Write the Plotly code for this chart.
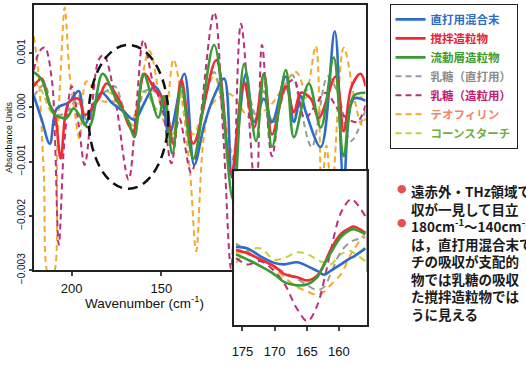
import plotly.graph_objects as go

W, H = 526, 365

# ---------------- main spectrum data (wavenumber cm-1, absorbance x 1e-3) ----------------
blue_wn = [221.1, 216.7, 212.2, 208.3, 201.7, 196.1, 192.8, 188.9, 183.3, 177.8, 170.6, 165.0, 159.4, 153.9,
           150.0, 145.6, 137.2, 131.7, 126.1, 120.6, 115.0, 110.6, 102.8, 98.3, 92.8, 88.3, 80.6, 76.1, 72.2,
           69.4, 61.1, 53.3, 48.3, 42.8, 36.1]
blue_abs = [0.21, -0.23, -0.67, -0.02, 0.09, 0.30, -0.32, -0.05, 0.27, 0.09, -0.09, -0.23, 0.09, 0.39,
            0.21, -0.50, 0.62, -1.06, -0.32, 0.21, 0.53, -1.29, 0.62, -0.27, 0.16, -0.27, 0.57, -0.27, 0.21,
            -0.09, -0.73, 1.40, -1.38, 0.16, 0.12]

red_wn = [221.1, 216.7, 212.8, 209.4, 206.1, 201.7, 196.1, 192.8, 185.0, 180.6, 173.9, 168.3, 165.6, 159.4,
          153.9, 148.3, 143.3, 138.9, 132.2, 119.4, 111.1, 103.9, 98.3, 92.8, 88.3, 80.6, 76.1, 72.2, 66.7,
          62.2, 52.8, 48.3, 43.9, 38.9, 36.1]
red_abs = [0.39, 0.53, 0.09, -0.14, -0.94, 0.09, 0.16, -0.14, 0.16, 0.44, 0.16, -0.32, -0.44, 0.62,
           0.34, 0.12, -0.67, 0.51, -0.67, 0.87, -1.20, 0.44, -0.37, 0.62, -0.50, 0.39, -0.09, 0.27, 0.16,
           -0.19, 0.57, -0.44, 0.39, 0.62, 0.39]

green_wn = [221.1, 216.7, 212.2, 209.4, 202.8, 198.9, 190.6, 182.8, 176.1, 168.3, 165.0, 160.0, 151.7, 148.3,
            143.9, 138.9, 132.2, 120.6, 110.0, 103.9, 97.2, 92.8, 88.3, 80.6, 76.1, 67.8, 61.1, 53.9, 48.3,
            42.8, 36.1]
green_abs = [0.65, 0.51, 0.04, -0.14, -0.19, -0.02, -0.37, 0.62, 0.21, -0.27, -0.55, 0.62, -0.19, 0.21,
             -0.85, 0.39, -0.94, 1.15, -1.70, 0.80, -0.62, 0.62, -0.73, 0.69, -0.55, 0.44, -0.37, 0.92, -0.90,
             0.21, 0.27]

lac_direct_wn = [221.1, 215.0, 211.1, 206.7, 201.7, 196.1, 191.7, 186.1, 180.6, 176.1, 170.6, 165.0, 159.4,
                 153.9, 148.3, 143.9, 138.9, 132.2, 120.6, 111.1, 103.9, 97.2, 92.8, 88.3, 77.2, 72.2, 66.1,
                 57.2, 51.1, 44.4, 36.1]
lac_direct_abs = [0.21, 0.42, -0.05, -0.14, -0.05, 0.21, -0.23, 0.21, 0.30, 0.39, -0.05, -0.41, 0.30,
                  0.30, -0.05, -0.58, 0.30, -0.67, 0.65, -1.03, 0.48, -0.14, 0.30, -0.32, 0.60, -0.05, -0.73,
                  0.57, 0.21, -0.62, -0.05]

lac_gran_wn = [221.1, 217.8, 215.0, 211.1, 209.4, 207.2, 204.0, 200.0, 196.1, 192.8, 188.5, 185.0, 182.2,
               176.0, 168.3, 164.0, 160.0, 155.0, 151.7, 148.9, 144.4, 140.0, 133.3, 120.6, 115.5, 111.1, 105.6,
               97.2, 93.9, 88.3, 82.0, 76.1, 70.0, 63.0, 58.3, 50.0, 41.1, 36.1]
lac_gran_abs = [0.69, 1.04, 1.10, 0.51, -0.50, -2.53, -0.60, 0.39, -0.32, -1.06, 0.10, 0.87, 0.97,
                0.20, -1.33, 0.00, 1.24, 0.50, 0.21, -0.11, -1.03, -0.20, -1.20, 1.75, -0.50, -2.97, 1.54,
                -1.70, 1.15, -0.90, 0.30, 0.51, -0.20, 0.10, 0.27, -0.10, -0.27, 0.04]

theo_wn = [221.1, 218.5, 215.6, 212.8, 210.5, 208.0, 205.8, 203.9, 201.1, 198.9, 195.6, 191.7, 183.3, 175.0,
           166.7, 156.7, 148.3, 143.3, 138.9, 134.0, 130.6, 126.5, 122.2, 112.2, 100.0, 88.9, 75.0, 69.4, 63.9,
           60.6, 58.0, 55.0, 48.3, 42.0, 38.3, 36.1]
theo_abs = [1.31, 0.60, -1.20, -3.10, -3.10, -0.70, 0.90, 1.84, 0.57, 0.04, -0.58, 0.48, 0.12, 0.10,
            -0.23, 1.04, -0.27, 0.88, 0.21, -1.20, -2.65, -0.60, 0.04, 0.25, -0.20, 0.05, 0.65, 0.30, 1.13,
            -1.56, -0.70, -1.56, 1.10, 0.10, -0.32, -0.20]

corn_wn = [221.1, 216.7, 212.2, 206.7, 201.7, 196.1, 190.6, 182.8, 176.1, 168.3, 165.0, 160.0, 151.7, 148.3,
           143.9, 138.9, 132.2, 120.6, 110.0, 103.9, 97.2, 92.8, 88.3, 80.6, 76.1, 67.8, 61.1, 53.9, 48.3,
           42.8, 36.1]
corn_abs = [0.48, 0.30, -0.05, -0.23, -0.11, 0.07, -0.23, 0.30, 0.21, -0.23, -0.35, 0.30, -0.05, 0.12,
            -0.50, 0.21, -0.50, 0.57, -0.85, 0.39, -0.23, 0.30, -0.23, 0.39, -0.14, 0.21, -0.14, 0.48, -0.32,
            0.12, 0.21]

# ---------------- inset data (wavenumber cm-1, relative absorbance) ----------------
ins_wn = [176.0, 174.2, 172.2, 170.1, 168.5, 166.5, 164.9, 163.4, 162.3, 161.3, 159.7, 158.2, 157.7, 155.9]
ins_blue = [50.8, 49.8, 44.6, 40.4, 39.4, 40.8, 38.3, 35.2, 32.7, 35.2, 39.4, 43.5, 44.5, 49.8]
ins_red = [48.8, 46.7, 42.5, 38.3, 33.1, 31.0, 29.0, 32.1, 39.4, 48.8, 59.2, 63.3, 64.0, 60.0]
ins_green = [46.0, 42.5, 38.3, 33.1, 27.9, 25.8, 26.5, 31.0, 39.4, 46.7, 57.1, 61.9, 62.3, 59.2]
ins_lac_direct = [52.9, 47.7, 42.5, 38.3, 34.2, 30.0, 25.8, 22.7, 24.8, 33.1, 47.7, 54.0, 55.0, 57.1]
ins_lac_gran = [43.5, 39.4, 41.5, 35.2, 27.1, 10.4, 2.5, 12.5, 29.2, 47.9, 72.9, 81.7, 81.0, 70.8]
ins_theo = [47.7, 46.0, 43.5, 37.3, 31.0, 24.8, 21.7, 19.6, 21.7, 26.0, 33.1, 45.6, 49.0, 60.0]
ins_corn = [40.4, 48.1, 49.8, 42.5, 43.5, 47.3, 46.0, 42.5, 40.5, 39.4, 46.0, 48.1, 47.0, 41.5]

series_names = ["直打用混合末", "撹拌造粒物", "流動層造粒物", "乳糖（直打用）", "乳糖（造粒用）", "テオフィリン", "コーンスターチ"]
line_colors = ["#2f6cc8", "#ee2b36", "#3a9a34", "#9a9a9a", "#b8307c", "#f2aa2e", "#c4cf3c"]
text_colors = ["#2c6cc4", "#e8202e", "#3d9a2e", "#8c8c8c", "#c2206c", "#f08466", "#6fae3e"]
dashed = [False, False, False, True, True, True, True]

main_x = [blue_wn, red_wn, green_wn, lac_direct_wn, lac_gran_wn, theo_wn, corn_wn]
main_y = [blue_abs, red_abs, green_abs, lac_direct_abs, lac_gran_abs, theo_abs, corn_abs]
inset_y = [ins_blue, ins_red, ins_green, ins_lac_direct, ins_lac_gran, ins_theo, ins_corn]

draw_order = [6, 3, 5, 4, 0, 1, 2]

fig = go.Figure()
for i in draw_order:
    line = dict(color=line_colors[i], width=2.0 if dashed[i] else 2.6, shape="spline", smoothing=1.0)
    if dashed[i]:
        line["dash"] = "6px,4px"
    fig.add_trace(go.Scatter(
        x=main_x[i], y=[v * 1e-3 for v in main_y[i]], mode="lines", line=line,
        name='<span style="color:%s">%s</span>' % (text_colors[i], series_names[i]),
        legendrank=i + 1, xaxis="x", yaxis="y"))
for i in draw_order:
    line = dict(color=line_colors[i], width=2.0 if dashed[i] else 2.6, shape="spline", smoothing=1.0)
    if dashed[i]:
        line["dash"] = "7px,5px"
    fig.add_trace(go.Scatter(
        x=ins_wn, y=inset_y[i], mode="lines", line=line, showlegend=False,
        xaxis="x2", yaxis="y2"))


def px(x):
    return x / W


def py(y):
    return 1 - y / H


axis_font = dict(family="Liberation Sans, Arial", size=13, color="#111")

fig.update_layout(
    width=W, height=H,
    margin=dict(l=0, r=0, t=0, b=0),
    paper_bgcolor="white", plot_bgcolor="white",
    showlegend=True,
    legend=dict(x=px(389), y=py(4), xanchor="left", yanchor="top",
                bordercolor="#222", borderwidth=1, bgcolor="white",
                font=dict(family="Noto Sans CJK JP", size=11.5, weight=700),
                tracegroupgap=0, itemwidth=30),
    xaxis=dict(domain=[px(32), px(365)], range=[221.1, 36.1], anchor="y",
               tickvals=[200, 150], ticks="outside", ticklen=4, tickwidth=1.5,
               ticklabelstandoff=1,
               showline=True, linecolor="#222", linewidth=2, mirror=True,
               showgrid=False, zeroline=False, tickfont=axis_font),
    yaxis=dict(domain=[py(281), py(5)], range=[-0.003, 0.00189], anchor="x",
               tickvals=[-0.003, -0.002, -0.001, 0.0, 0.001], tickformat=".3f",
               tickangle=-90, ticks="outside", ticklen=3, tickwidth=1.5,
               showline=True, linecolor="#222", linewidth=2, mirror=True,
               showgrid=False, zeroline=False,
               tickfont=dict(family="Liberation Sans, Arial", size=10, color="#111"),
               title=dict(text="Absorbance Units", standoff=2,
                          font=dict(family="Liberation Sans, Arial", size=9, color="#111"))),
    xaxis2=dict(domain=[px(233), px(366)], range=[176.3, 155.7], anchor="y2",
                tickvals=[175, 170, 165, 160], ticks="outside", ticklen=4, tickwidth=1.5,
                ticklabelstandoff=9,
                showline=True, linecolor="#222", linewidth=2, mirror=True,
                showgrid=False, zeroline=False, tickfont=axis_font),
    yaxis2=dict(domain=[py(338), py(178)], range=[0, 100], anchor="x2",
                showticklabels=False, ticks="",
                showline=True, linecolor="#222", linewidth=2, mirror=True,
                showgrid=False, zeroline=False),
)

# dashed ellipse around the 180-140 cm-1 region
fig.add_shape(type="circle", xref="x", yref="y", x0=190.6, x1=146.1, y0=-0.00150, y1=0.00115,
              line=dict(color="#111", width=2.5, dash="10px,6px"), layer="above")

# x axis title (centred on the visible part of the main axis)
fig.add_annotation(x=px(143), y=py(314), xref="paper", yref="paper", showarrow=False,
                   text="Wavenumber (cm<sup>-1</sup>)", xanchor="center", yanchor="middle",
                   borderpad=0,
                   font=dict(family="Liberation Sans, Arial", size=13.5, color="#111"))

# explanatory text block (clipped at the right edge as in the original)
text_lines = [
    "遠赤外・THz領域で",
    "収が一見して目立",
    "180cm<sup>-1</sup>～140cm<sup>-1</sup>",
    "は，直打用混合末で",
    "チの吸収が支配的",
    "物では乳糖の吸収",
    "た撹拌造粒物では",
    "うに見える",
]
LINE_H = 13.5 * 1.3
TEXT_TOP = 186
bullet_rows = [0, 2]
fig.add_annotation(x=px(409), y=py(TEXT_TOP), xref="paper", yref="paper", showarrow=False,
                   text="<br>".join(text_lines), xanchor="left", yanchor="top", align="left",
                   font=dict(family="Noto Sans CJK JP", size=13.5, color="#1a1a1a", weight=700))
for r in bullet_rows:
    fig.add_annotation(x=px(402), y=py(TEXT_TOP + 10 + r * LINE_H), xref="paper", yref="paper",
                       showarrow=False, text="●", xanchor="center", yanchor="middle",
                       font=dict(family="DejaVu Sans", size=11, color="#e8504c"))

fig.write_html("out.html", post_script="document.body.style.margin='0px';",
               config={"displayModeBar": False})
